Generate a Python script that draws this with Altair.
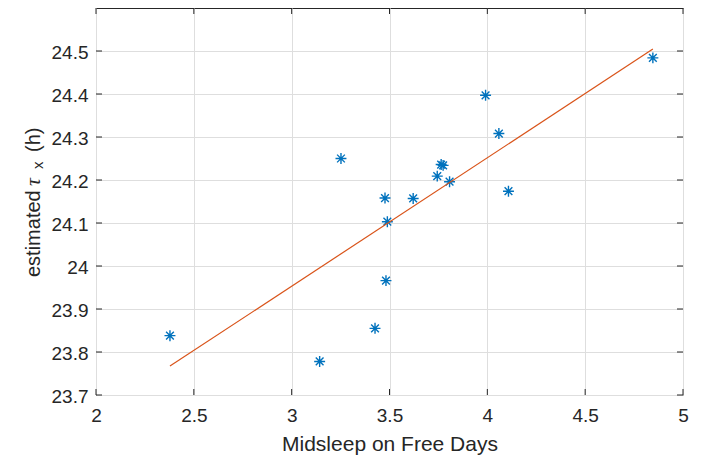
import altair as alt
import pandas as pd

# values
midsleep = [2.378, 3.143, 3.252, 3.426, 3.477, 3.489, 3.482, 3.621,
            3.744, 3.764, 3.774, 3.807, 4.108, 3.991, 4.059, 4.846]
tau = [23.838, 23.778, 24.250, 23.855, 24.158, 24.103, 23.966, 24.157,
       24.209, 24.236, 24.234, 24.196, 24.174, 24.397, 24.308, 24.484]
x_ticks = [2, 2.5, 3, 3.5, 4, 4.5, 5]
y_ticks = [23.7, 23.8, 23.9, 24.0, 24.1, 24.2, 24.3, 24.4, 24.5]

W, H = 587, 387
TICK = 6
DARK = "#262626"
FONT = "Liberation Sans"

df = pd.DataFrame({"midsleep": midsleep, "tau": tau})
xs = alt.Scale(domain=[2, 5], nice=False, zero=False)
ys = alt.Scale(domain=[23.7, 24.6], nice=False, zero=False)

x_axis = alt.Axis(values=x_ticks, format="~g", grid=True, ticks=False, domain=False,
                  gridColor="#dedede", gridWidth=1,
                  labelFont=FONT, labelFontSize=19, labelColor=DARK, labelPadding=11,
                  labelFlush=False,
                  title="Midsleep on Free Days", titleFont=FONT, titleFontSize=21,
                  titleFontWeight="normal", titleColor=DARK, titlePadding=8)
y_axis = alt.Axis(values=y_ticks, format="~g", grid=True, ticks=False, domain=False,
                  gridColor="#dedede", gridWidth=1,
                  labelFont=FONT, labelFontSize=19, labelColor=DARK, labelPadding=8,
                  labelFlush=False, labelOffset=1, title="")

asterisk = ("M-1,0L1,0M0,-1L0,1M-0.707,-0.707L0.707,0.707"
            "M-0.707,0.707L0.707,-0.707")

X = alt.X("midsleep:Q", scale=xs, axis=x_axis)
Y = alt.Y("tau:Q", scale=ys, axis=y_axis)

points = alt.Chart(df).mark_point(shape=asterisk, filled=False, stroke="#0072BD",
                                  strokeWidth=1.4, size=120, opacity=1).encode(x=X, y=Y)

fit = alt.Chart(df).transform_regression("midsleep", "tau").mark_line(
    color="#D95319", strokeWidth=1.2).encode(x=X, y=Y)

xt = pd.DataFrame({"midsleep": x_ticks})
yt = pd.DataFrame({"tau": y_ticks})

xtick_bottom = alt.Chart(xt).mark_rule(color=DARK, strokeWidth=1).encode(
    x=X, y=alt.value(H), y2=alt.value(H - TICK))
xtick_top = alt.Chart(xt).mark_rule(color=DARK, strokeWidth=1).encode(
    x=X, y=alt.value(0), y2=alt.value(TICK))
ytick_left = alt.Chart(yt).mark_rule(color=DARK, strokeWidth=1).encode(
    y=Y, x=alt.value(0), x2=alt.value(TICK))
ytick_right = alt.Chart(yt).mark_rule(color=DARK, strokeWidth=1).encode(
    y=Y, x=alt.value(W), x2=alt.value(W - TICK))

# y-axis title "estimated τ_x (h)" built from pieces so the x can be a subscript
one = pd.DataFrame({"k": [0]})


def title_piece(text, x, y, size, font=FONT, style="normal"):
    return alt.Chart(one).mark_text(
        text=text, angle=270, align="left", baseline="alphabetic",
        font=font, fontSize=size, fontStyle=style, color=DARK,
    ).encode(x=alt.value(x), y=alt.value(y))


t1 = title_piece("estimated", -56, 269, 20)
t2 = title_piece("τ", -56, 178, 22, font="Liberation Serif", style="italic")
t3 = title_piece("x", -53, 161, 15)
t4 = title_piece("(h)", -56, 144, 20)

chart = alt.layer(points, fit, xtick_bottom, xtick_top, ytick_left, ytick_right,
                  t1, t2, t3, t4).properties(
    width=W, height=H,
    autosize=alt.AutoSizeParams(type="none"),
    padding={"left": 96, "top": 8, "right": 18, "bottom": 62},
    background="white",
).configure_view(stroke=DARK, strokeWidth=1)

chart.save("out.html", embed_options={"renderer": "svg", "actions": False})
